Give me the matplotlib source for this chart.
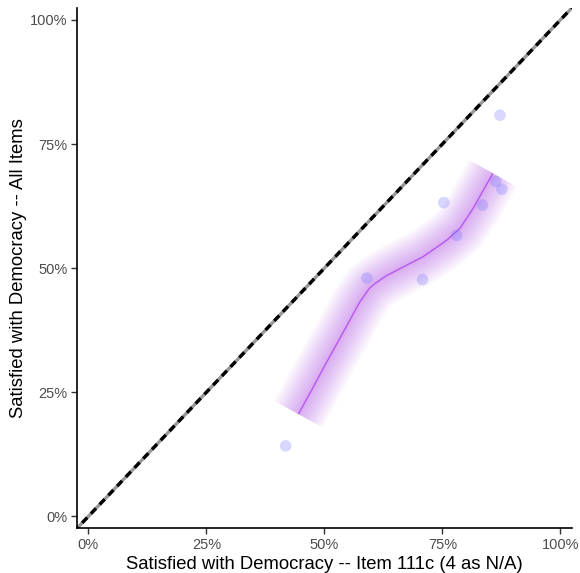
import numpy as np
import matplotlib
matplotlib.use("Agg")
import matplotlib.pyplot as plt
from matplotlib.ticker import PercentFormatter

# observed points (share satisfied)
item_111c = [0.418, 0.590, 0.708, 0.753, 0.780, 0.835, 0.863, 0.876, 0.872]
all_items = [0.142, 0.480, 0.477, 0.632, 0.566, 0.627, 0.675, 0.659, 0.808]

# smoothed fit
smooth_x = [0.445, 0.475, 0.505, 0.540, 0.575, 0.596, 0.607, 0.632, 0.660,
            0.709, 0.759, 0.787, 0.815, 0.829, 0.857]
smooth_y = [0.206, 0.258, 0.311, 0.371, 0.432, 0.460, 0.469, 0.485, 0.499,
            0.523, 0.556, 0.580, 0.620, 0.644, 0.691]

ticks = [0, 0.25, 0.5, 0.75, 1.0]

plt.rcParams["font.family"] = ["Liberation Sans", "DejaVu Sans"]

fig = plt.figure(figsize=(5.80, 5.73), dpi=100)
ax = fig.add_axes([0.1328, 0.078, 0.8529, 0.908])

# 45-degree reference line: grey underneath, black dashes on top
ref = [-0.05, 1.05]
ax.plot(ref, ref, color="#999999", lw=2.4, zorder=2, solid_capstyle="butt")
ax.plot(ref, ref, color="black", lw=2.4, ls=(0, (2.2, 1.6)), zorder=3)

# glowing smooth line: stacked strokes of shrinking width
widths = np.linspace(40, 2, 15)
for w in widths:
    ax.plot(smooth_x, smooth_y, color="#A020F0", lw=w, alpha=0.028,
            solid_capstyle="butt", solid_joinstyle="round", zorder=4)
ax.plot(smooth_x, smooth_y, color="#A020F0", lw=1.0, alpha=0.6, zorder=5,
        solid_capstyle="butt")

ax.scatter(item_111c, all_items, s=70, color="#7070FF", alpha=0.28,
           edgecolors="none", zorder=6)

ax.set_xlim(-0.024, 1.024)
ax.set_ylim(-0.024, 1.024)
ax.set_xticks(ticks)
ax.set_yticks(ticks)
ax.xaxis.set_major_formatter(PercentFormatter(1.0, decimals=0))
ax.yaxis.set_major_formatter(PercentFormatter(1.0, decimals=0))
ax.tick_params(colors="#333333", labelcolor="#4D4D4D", labelsize=10.5,
               length=4, width=1.0, pad=3)
for side in ["top", "right"]:
    ax.spines[side].set_visible(False)
for side in ["left", "bottom"]:
    ax.spines[side].set_linewidth(1.2)
    ax.spines[side].set_color("black")

ax.set_xlabel("Satisfied with Democracy -- Item 111c (4 as N/A)", fontsize=13.3,
              labelpad=3)
ax.set_ylabel("Satisfied with Democracy -- All Items", fontsize=13.3, labelpad=2)

fig.savefig("out.png", dpi=100, facecolor="white")
